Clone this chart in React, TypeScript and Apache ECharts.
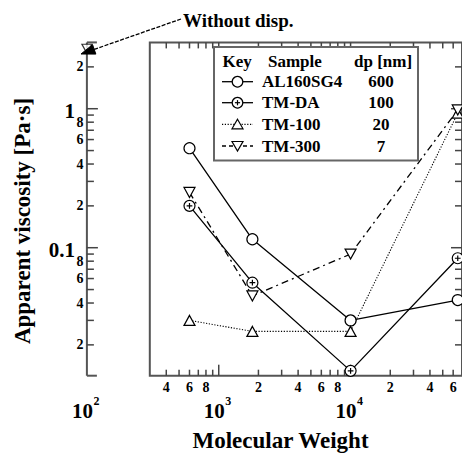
import React, { useEffect, useRef } from "react";
import * as echarts from "echarts";

// ---------- data ----------
const molecularWeight = [600, 1800, 10000, 65000];
const al160sg4 = [0.52, 0.115, 0.03, 0.042];
const tmDA = [0.2, 0.056, 0.013, 0.084];
const tm100 = [0.03, 0.025, 0.025, 0.93];
const tm300 = [0.25, 0.045, 0.09, 0.98];
const withoutDispX = [100];
const withoutDispY = [2.7];

const sampleNames = ["AL160SG4", "TM-DA", "TM-100", "TM-300"];
const particleSizes = ["600", "100", "20", "7"];

const xExtent = [100, 70000];
const yExtent = [0.012, 3];
const boxLeftValue = 300;

const xTickValues = [
  400, 500, 600, 700, 800, 900, 1000, 2000, 3000, 4000, 5000, 6000, 7000, 8000, 9000, 10000,
  20000, 30000, 40000, 50000, 60000,
];
const xTickLabels = [
  "4", "", "6", "", "8", "", "", "2", "", "4", "", "6", "", "8", "", "",
  "2", "", "4", "", "6",
];
const xMajorValues = [100, 1000, 10000];
const xMajorExponents = ["2", "3", "4"];

const yTickValues = [
  0.02, 0.03, 0.04, 0.05, 0.06, 0.07, 0.08, 0.09, 0.1,
  0.2, 0.3, 0.4, 0.5, 0.6, 0.7, 0.8, 0.9, 1, 2,
];
const yTickLabels = [
  "2", "", "4", "", "6", "", "8", "", "0.1",
  "2", "", "4", "", "6", "", "8", "", "1", "2",
];
const yMajorValues = [0.1, 1];

const FAMILY = "Liberation Serif";
const AXIS = "#555";
const TICK = "#444";

function pairs(xs: number[], ys: number[]) {
  return xs.map((x, i) => [x, ys[i]]);
}

function tstyle(text: string, size: number, align: string) {
  return {
    text,
    fontFamily: FAMILY,
    fontSize: size,
    fontWeight: "bold",
    fill: "#000",
    align,
    verticalAlign: "middle",
  };
}

const circlePlus =
  "path://M0,-5A5,5,0,1,1,0,5A5,5,0,1,1,0,-5ZM-2.6,0L2.6,0M0,-2.6L0,2.6";

export default function App() {
  const ref = useRef<HTMLDivElement>(null);

  useEffect(() => {
    if (!ref.current) return;
    const chart = echarts.init(ref.current, undefined, { renderer: "svg" });

    const markerStyle = { color: "#fff", borderColor: "#000", borderWidth: 1.2 };

    const frameSeries: any = {
      type: "custom",
      coordinateSystem: "cartesian2d",
      silent: true,
      clip: false,
      z: 1,
      data: [[boxLeftValue, yExtent[0]]],
      renderItem: (_p: any, api: any) => {
        const sBot = api.coord([xExtent[0], yExtent[0]]);
        const sTop = api.coord([xExtent[0], yExtent[1]]);
        const bTL = api.coord([boxLeftValue, yExtent[1]]);
        const bBR = api.coord([xExtent[1], yExtent[0]]);
        const st = { stroke: AXIS, lineWidth: 2, fill: "none" };
        return {
          type: "group",
          children: [
            { type: "line", shape: { x1: sBot[0], y1: sBot[1], x2: sTop[0], y2: sTop[1] }, style: st },
            { type: "line", shape: { x1: sBot[0], y1: sBot[1], x2: sBot[0] + 10, y2: sBot[1] }, style: st },
            { type: "line", shape: { x1: sTop[0], y1: sTop[1], x2: sTop[0] + 10, y2: sTop[1] }, style: st },
            {
              type: "rect",
              shape: { x: bTL[0], y: bTL[1], width: bBR[0] - bTL[0], height: bBR[1] - bTL[1] },
              style: st,
            },
          ],
        };
      },
    };

    const yTickSeries: any = {
      type: "custom",
      coordinateSystem: "cartesian2d",
      silent: true,
      clip: false,
      z: 1,
      data: yTickValues.map((v) => [xExtent[0], v]),
      renderItem: (p: any, api: any) => {
        const i = p.dataIndex;
        const v = yTickValues[i];
        const major = yMajorValues.indexOf(v) >= 0;
        const len = major ? 11 : 7;
        const pl = api.coord([xExtent[0], v]);
        const pr = api.coord([xExtent[1], v]);
        const ts = { stroke: TICK, lineWidth: 1.5 };
        const children: any[] = [
          { type: "line", shape: { x1: pl[0], y1: pl[1], x2: pl[0] + len, y2: pl[1] }, style: ts },
          { type: "line", shape: { x1: pr[0], y1: pr[1], x2: pr[0] - len, y2: pr[1] }, style: ts },
        ];
        const label = yTickLabels[i];
        if (label) {
          children.push({
            type: "text",
            x: major ? pl[0] - 12 : pl[0] - 3.5,
            y: pl[1] + (major ? 2.5 : 0),
            style: tstyle(label, major ? 21 : 14, "right"),
          });
        }
        return { type: "group", children };
      },
    };

    const xTickSeries: any = {
      type: "custom",
      coordinateSystem: "cartesian2d",
      silent: true,
      clip: false,
      z: 1,
      data: xTickValues.map((v) => [v, yExtent[0]]),
      renderItem: (p: any, api: any) => {
        const i = p.dataIndex;
        const v = xTickValues[i];
        const major = xMajorValues.indexOf(v) >= 0;
        const len = major ? 11 : 6;
        const pb = api.coord([v, yExtent[0]]);
        const pt = api.coord([v, yExtent[1]]);
        const ts = { stroke: TICK, lineWidth: 1.5 };
        const children: any[] = [
          { type: "line", shape: { x1: pb[0], y1: pb[1], x2: pb[0], y2: pb[1] - len }, style: ts },
          { type: "line", shape: { x1: pt[0], y1: pt[1], x2: pt[0], y2: pt[1] + len }, style: ts },
        ];
        const label = xTickLabels[i];
        if (label) {
          children.push({
            type: "text",
            x: pb[0],
            y: pb[1] + 11.5,
            style: tstyle(label, 14, "center"),
          });
        }
        return { type: "group", children };
      },
    };

    const xMajorLabelSeries: any = {
      type: "custom",
      coordinateSystem: "cartesian2d",
      silent: true,
      clip: false,
      z: 1,
      data: xMajorValues.map((v) => [v, yExtent[0]]),
      renderItem: (p: any, api: any) => {
        const i = p.dataIndex;
        const pb = api.coord([xMajorValues[i], yExtent[0]]);
        return {
          type: "group",
          children: [
            { type: "text", x: pb[0] + 6, y: pb[1] + 35, style: tstyle("10", 21, "right") },
            { type: "text", x: pb[0] + 6.5, y: pb[1] + 25, style: tstyle(xMajorExponents[i], 12, "left") },
          ],
        };
      },
    };

    const lineBase = {
      type: "line",
      symbolSize: 11,
      itemStyle: markerStyle,
      z: 5,
      clip: false,
      silent: true,
    };

    const series: any[] = [
      frameSeries,
      yTickSeries,
      xTickSeries,
      xMajorLabelSeries,
      {
        ...lineBase,
        name: sampleNames[0],
        data: pairs(molecularWeight, al160sg4),
        symbol: "circle",
        lineStyle: { color: "#000", width: 1.3, type: "solid" },
      },
      {
        ...lineBase,
        name: sampleNames[1],
        data: pairs(molecularWeight, tmDA),
        symbol: circlePlus,
        lineStyle: { color: "#000", width: 1.3, type: "solid" },
      },
      {
        ...lineBase,
        name: sampleNames[2],
        data: pairs(molecularWeight, tm100),
        symbol: "triangle",
        symbolSize: [11, 10],
        lineStyle: { color: "#000", width: 1.1, type: [1.2, 1.6] },
      },
      {
        ...lineBase,
        name: sampleNames[3],
        data: pairs(molecularWeight, tm300),
        symbol: "triangle",
        symbolRotate: 180,
        symbolSize: [11, 10],
        lineStyle: { color: "#000", width: 1.3, type: [7, 4, 2, 4] },
      },
      {
        type: "scatter",
        name: "Without disp.",
        data: pairs(withoutDispX, withoutDispY),
        symbol: "triangle",
        symbolRotate: 180,
        symbolSize: [10, 9],
        itemStyle: markerStyle,
        z: 5,
        clip: false,
        silent: true,
      },
    ];

    // legend table
    const legendX = 214;
    const legendTop = 47;
    const rowY = [81.7, 102.7, 124.3, 146];
    const keyX1 = 222;
    const keyX2 = 253;
    const keyCx = 237.5;
    const txt = (text: string, x: number, y: number, align: string, size = 17) => ({
      type: "text",
      x,
      y,
      z: 20,
      style: tstyle(text, size, align),
    });
    const keyLineTypes: any[] = [null, null, [1.2, 1.6], [4, 3]];
    const legendChildren: any[] = [
      {
        type: "rect",
        z: 10,
        shape: { x: legendX, y: legendTop, width: 204, height: 113.5 },
        style: { fill: "#fff", stroke: "#666", lineWidth: 2 },
      },
      txt("Key", 222.5, 61.7, "left"),
      txt("Sample", 268, 61.7, "left"),
      txt("dp [nm]", 354, 61.7, "left"),
    ];
    sampleNames.forEach((name, i) => {
      const y = rowY[i];
      legendChildren.push({
        type: "line",
        z: 20,
        shape: { x1: keyX1, y1: y, x2: keyX2, y2: y },
        style: { stroke: "#000", lineWidth: 1.3, lineDash: keyLineTypes[i] || undefined },
      });
      if (i === 0 || i === 1) {
        legendChildren.push({
          type: "circle",
          z: 21,
          shape: { cx: keyCx, cy: y, r: 5.3 },
          style: { fill: "#fff", stroke: "#000", lineWidth: 1.2 },
        });
        if (i === 1) {
          legendChildren.push({
            type: "line", z: 22,
            shape: { x1: keyCx - 2.6, y1: y, x2: keyCx + 2.6, y2: y },
            style: { stroke: "#000", lineWidth: 1.2 },
          });
          legendChildren.push({
            type: "line", z: 22,
            shape: { x1: keyCx, y1: y - 2.6, x2: keyCx, y2: y + 2.6 },
            style: { stroke: "#000", lineWidth: 1.2 },
          });
        }
      } else if (i === 2) {
        legendChildren.push({
          type: "polygon", z: 21,
          shape: { points: [[keyCx, y - 5], [keyCx + 5.5, y + 4.5], [keyCx - 5.5, y + 4.5]] },
          style: { fill: "#fff", stroke: "#000", lineWidth: 1.2 },
        });
      } else {
        legendChildren.push({
          type: "polygon", z: 21,
          shape: { points: [[keyCx - 5.5, y - 4.5], [keyCx + 5.5, y - 4.5], [keyCx, y + 5]] },
          style: { fill: "#fff", stroke: "#000", lineWidth: 1.2 },
        });
      }
      legendChildren.push(txt(name, 262, y, "left"));
      legendChildren.push(txt(particleSizes[i], 381, y, "center"));
    });

    // annotation arrow
    const tail = [181, 19];
    const tip = [81, 54];
    const dx = tip[0] - tail[0];
    const dy = tip[1] - tail[1];
    const L = Math.sqrt(dx * dx + dy * dy);
    const ux = dx / L;
    const uy = dy / L;
    const head = 14;
    const hw = 5;
    const bx = tip[0] - head * ux;
    const by = tip[1] - head * uy;

    const graphic: any[] = [
      ...legendChildren,
      {
        type: "line",
        z: 20,
        shape: { x1: tail[0], y1: tail[1], x2: bx, y2: by },
        style: { stroke: "#000", lineWidth: 1.3, lineDash: [4, 1.5] },
      },
      {
        type: "polygon",
        z: 20,
        shape: {
          points: [
            [tip[0], tip[1]],
            [bx - hw * uy, by + hw * ux],
            [bx + hw * uy, by - hw * ux],
          ],
        },
        style: { fill: "#000", stroke: "#000", lineWidth: 1 },
      },
      { type: "text", x: 183, y: 20, z: 20, style: tstyle("Without disp.", 19, "left") },
      {
        type: "text",
        x: 22,
        y: 221,
        rotation: Math.PI / 2,
        z: 20,
        style: tstyle("Apparent viscosity [Pa\u00b7s]", 23, "center"),
      },
      { type: "text", x: 280.5, y: 440, z: 20, style: tstyle("Molecular Weight", 23, "center") },
    ];

    chart.setOption({
      animation: false,
      backgroundColor: "#fff",
      grid: { left: 86.9, top: 42.4, width: 376.7, height: 333.3 },
      xAxis: {
        type: "log",
        logBase: 10,
        min: xExtent[0],
        max: xExtent[1],
        axisLine: { show: false },
        axisTick: { show: false },
        axisLabel: { show: false },
        splitLine: { show: false },
        minorTick: { show: false },
      },
      yAxis: {
        type: "log",
        logBase: 10,
        min: yExtent[0],
        max: yExtent[1],
        axisLine: { show: false },
        axisTick: { show: false },
        axisLabel: { show: false },
        splitLine: { show: false },
        minorTick: { show: false },
      },
      series,
      graphic,
    });

    return () => chart.dispose();
  }, []);

  return (
    <div
      ref={ref}
      style={{ position: "absolute", left: 0, top: 0, width: 462, height: 453 }}
    />
  );
}
